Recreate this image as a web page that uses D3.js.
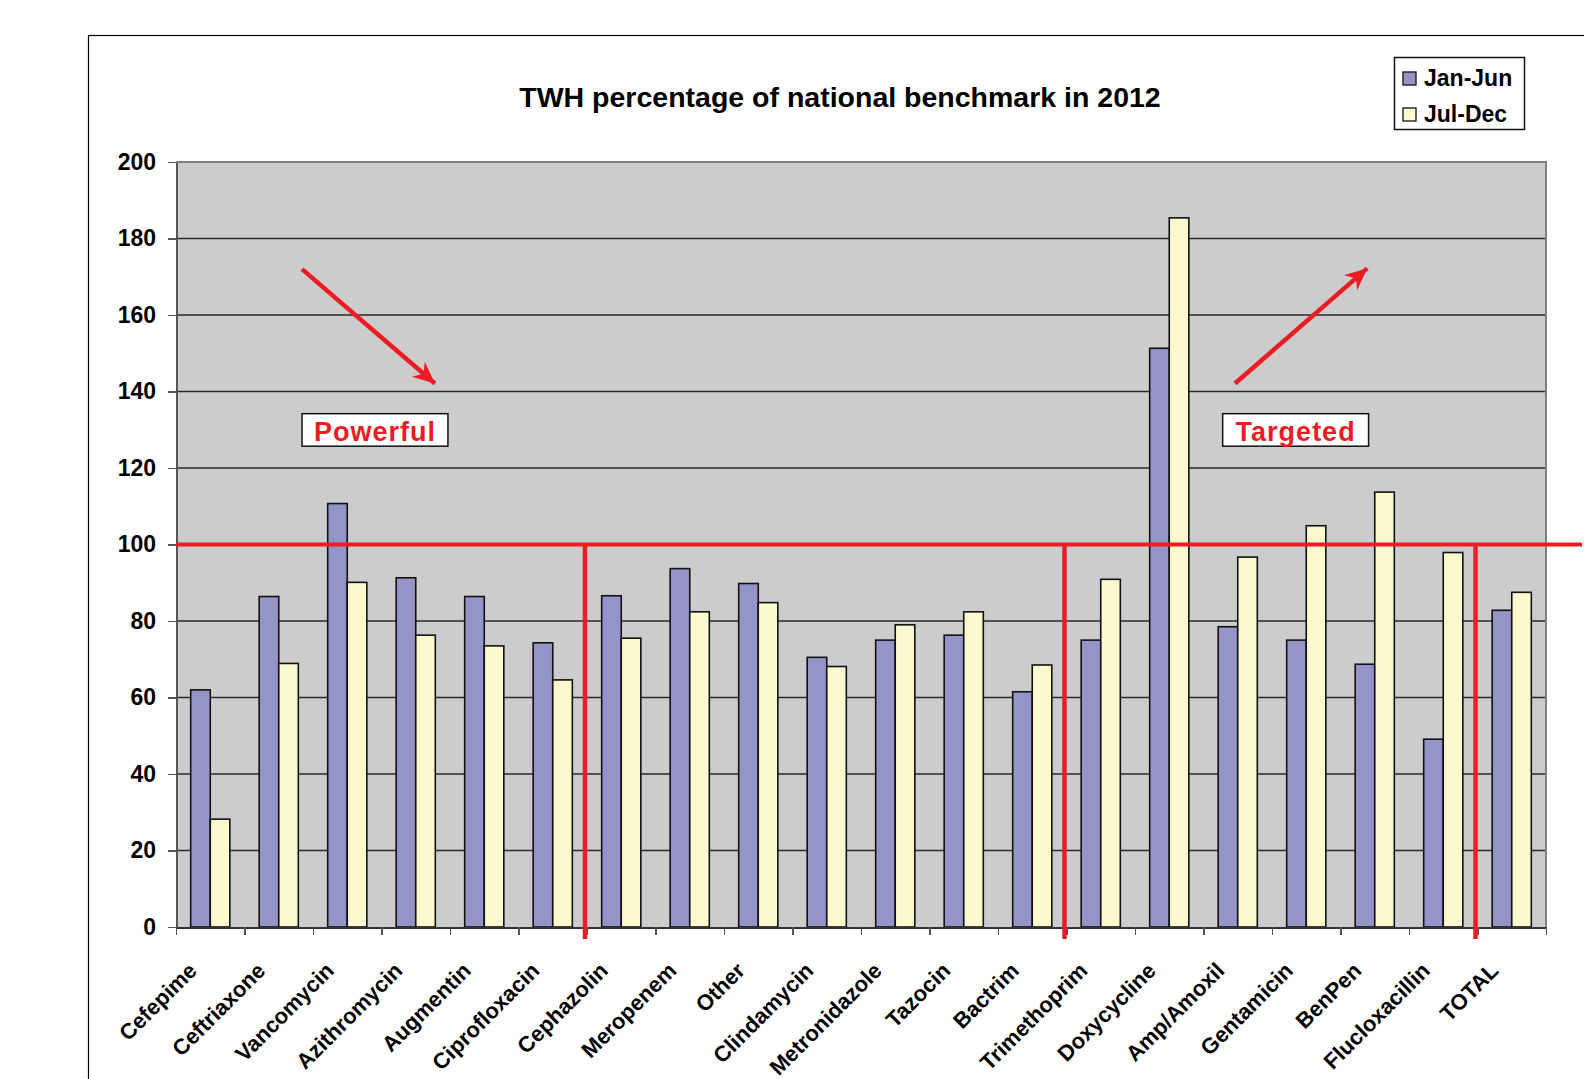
<!DOCTYPE html>
<html lang="en">
<head>
<meta charset="UTF-8">
<title>TWH percentage of national benchmark in 2012</title>
<style>
    body { margin: 0; background: #ffffff; overflow: hidden; }
    svg { display: block; font-family: 'Liberation Sans', Arial, sans-serif; }
    .axis path, .axis line { shape-rendering: crispEdges; }
</style>
</head>
<body>
<svg id="chart" width="1584" height="1079"></svg>
<script src="https://d3js.org/d3.v7.min.js"></script>
<script>
    // data
    const categories = ['Cefepime', 'Ceftriaxone', 'Vancomycin', 'Azithromycin', 'Augmentin',
        'Ciprofloxacin', 'Cephazolin', 'Meropenem', 'Other', 'Clindamycin', 'Metronidazole',
        'Tazocin', 'Bactrim', 'Trimethoprim', 'Doxycycline', 'Amp/Amoxil', 'Gentamicin',
        'BenPen', 'Flucloxacillin', 'TOTAL'];
    const janJun = [62.0, 86.4, 110.7, 91.3, 86.4, 74.3, 86.6, 93.7, 89.8, 70.5, 75.0,
        76.3, 61.5, 75.0, 151.3, 78.5, 75.0, 68.7, 49.1, 82.8];
    const julDec = [28.2, 68.9, 90.1, 76.3, 73.5, 64.6, 75.5, 82.4, 84.8, 68.1, 79.0,
        82.4, 68.5, 90.9, 185.4, 96.7, 104.9, 113.7, 97.9, 87.5];
    const seriesNames = ['Jan-Jun', 'Jul-Dec'];
    const yTicks = [0, 20, 40, 60, 80, 100, 120, 140, 160, 180, 200];
    const benchmark = 100;
    // groups split before these categories
    const dividers = ['Cephazolin', 'Trimethoprim', 'TOTAL'];
    // annotations: position in category index units and value units
    const labels = [
        { text: 'Powerful', i0: 1.84, i1: 3.97, v0: 134.2, v1: 125.7 },
        { text: 'Targeted', i0: 15.28, i1: 17.41, v0: 134.2, v1: 125.7 }
    ];
    const arrows = [
        { i0: 1.84, v0: 172.0, i1: 3.78, v1: 142.1 },
        { i0: 15.46, v0: 142.1, i1: 17.39, v1: 172.2 }
    ];

    const colors = ['#9494C8', '#FCF9CF'];
    const red = '#ED1C24';

    const svg = d3.select('#chart');
    const plotLeft = 176, plotRight = 1546, plotTop = 162, plotBottom = 927;

    // outer frame
    svg.append('rect')
        .attr('x', 88.5).attr('y', 35.5)
        .attr('width', 1600).attr('height', 1200)
        .attr('fill', 'none').attr('stroke', '#000').attr('stroke-width', 1.2);

    const x0 = d3.scaleBand().domain(categories).range([plotLeft, plotRight]).padding(0);
    const bw = x0.bandwidth();
    const x1 = d3.scaleBand().domain(seriesNames).range([bw * 0.2143, bw * 0.7857]);
    const xi = d3.scaleLinear().domain([0, categories.length]).range([plotLeft, plotRight]);
    const y = d3.scaleLinear().domain([0, 200]).range([plotBottom, plotTop]);

    // plot background
    svg.append('rect')
        .attr('x', plotLeft).attr('y', plotTop)
        .attr('width', plotRight - plotLeft).attr('height', plotBottom - plotTop)
        .attr('fill', '#CCCCCC');

    // gridlines
    svg.append('g')
        .selectAll('line')
        .data(yTicks.filter(t => t > 0 && t < 200))
        .join('line')
        .attr('x1', plotLeft).attr('x2', plotRight)
        .attr('y1', d => y(d)).attr('y2', d => y(d))
        .attr('stroke', '#2a2a2a').attr('stroke-width', 1.3);

    // plot border top/right
    svg.append('path')
        .attr('d', `M${plotLeft},${plotTop}H${plotRight}V${plotBottom}`)
        .attr('fill', 'none').attr('stroke', '#808080').attr('stroke-width', 2);

    // bars
    const rows = categories.map((c, i) => ({ cat: c, vals: [janJun[i], julDec[i]] }));
    svg.append('g')
        .selectAll('g')
        .data(rows)
        .join('g')
        .attr('transform', d => `translate(${x0(d.cat)},0)`)
        .selectAll('rect')
        .data(d => d.vals.map((v, k) => ({ key: seriesNames[k], v, k })))
        .join('rect')
        .attr('x', d => x1(d.key))
        .attr('width', x1.bandwidth())
        .attr('y', d => y(d.v))
        .attr('height', d => y(0) - y(d.v))
        .attr('fill', d => colors[d.k])
        .attr('stroke', '#111').attr('stroke-width', 1.6);

    // y axis
    const yAxis = svg.append('g')
        .attr('class', 'axis')
        .attr('transform', `translate(${plotLeft},0)`)
        .call(d3.axisLeft(y).tickValues(yTicks).tickSize(8).tickPadding(12).tickSizeOuter(0));
    yAxis.select('.domain').attr('stroke', '#555').attr('stroke-width', 2);
    yAxis.selectAll('.tick line').attr('stroke', '#555').attr('stroke-width', 1.5);
    yAxis.selectAll('.tick text')
        .attr('font-size', 23).attr('font-weight', 'bold').attr('fill', '#000')
        .attr('font-family', "'Liberation Sans', Arial, sans-serif");

    // x axis ticks at category boundaries
    const xTickAxis = svg.append('g')
        .attr('class', 'axis')
        .attr('transform', `translate(0,${plotBottom})`)
        .call(d3.axisBottom(xi).tickValues(d3.range(categories.length + 1))
            .tickFormat('').tickSize(8).tickSizeOuter(0));
    xTickAxis.select('.domain').attr('stroke', '#333').attr('stroke-width', 2);
    xTickAxis.selectAll('.tick line').attr('stroke', '#555').attr('stroke-width', 1.5);

    // x labels
    const xAxis = svg.append('g')
        .attr('transform', `translate(0,${plotBottom})`)
        .call(d3.axisBottom(x0).tickSize(0).tickPadding(0));
    xAxis.select('.domain').remove();
    xAxis.selectAll('.tick text')
        .attr('font-size', 22).attr('font-weight', 'bold').attr('fill', '#000')
        .attr('font-family', "'Liberation Sans', Arial, sans-serif")
        .attr('text-anchor', 'end')
        .attr('dy', null)
        .attr('y', 0)
        .attr('transform', 'translate(-12,45) rotate(-45)');

    // benchmark line and group dividers
    svg.append('line')
        .attr('x1', plotLeft).attr('x2', 1582)
        .attr('y1', y(benchmark)).attr('y2', y(benchmark))
        .attr('stroke', red).attr('stroke-width', 4);
    svg.append('g')
        .selectAll('line')
        .data(dividers)
        .join('line')
        .attr('x1', d => x0(d) - 2).attr('x2', d => x0(d) - 2)
        .attr('y1', y(benchmark)).attr('y2', plotBottom + 12)
        .attr('stroke', red).attr('stroke-width', 4.5);

    // arrows
    svg.append('defs').append('marker')
        .attr('id', 'head')
        .attr('markerUnits', 'userSpaceOnUse')
        .attr('viewBox', '-24 -12 28 24')
        .attr('markerWidth', 28).attr('markerHeight', 24)
        .attr('refX', 0).attr('refY', 0)
        .attr('orient', 'auto')
        .append('path')
        .attr('d', 'M0,0L-22,-10L-15,0L-22,10Z')
        .attr('fill', red);
    svg.append('g')
        .selectAll('line')
        .data(arrows)
        .join('line')
        .attr('x1', d => xi(d.i0)).attr('y1', d => y(d.v0))
        .attr('x2', d => xi(d.i1)).attr('y2', d => y(d.v1))
        .attr('stroke', red).attr('stroke-width', 4.5)
        .attr('marker-end', 'url(#head)');

    // annotation boxes
    const lab = svg.append('g').selectAll('g').data(labels).join('g');
    lab.append('rect')
        .attr('x', d => xi(d.i0)).attr('y', d => y(d.v0))
        .attr('width', d => xi(d.i1) - xi(d.i0))
        .attr('height', d => y(d.v1) - y(d.v0))
        .attr('fill', '#fff').attr('stroke', '#111').attr('stroke-width', 1.5);
    lab.append('text')
        .attr('x', d => (xi(d.i0) + xi(d.i1)) / 2)
        .attr('y', d => y(d.v1) - 5)
        .attr('text-anchor', 'middle')
        .attr('font-size', 27).attr('font-weight', 'bold')
        .attr('letter-spacing', 1)
        .attr('fill', red)
        .text(d => d.text);

    // title
    svg.append('text')
        .attr('x', 840).attr('y', 107)
        .attr('text-anchor', 'middle')
        .attr('font-size', 28.5).attr('font-weight', 'bold')
        .text('TWH percentage of national benchmark in 2012');

    // legend
    const legend = svg.append('g').attr('transform', 'translate(1394,57)');
    legend.append('rect')
        .attr('x', 0.5).attr('y', 0.5).attr('width', 130).attr('height', 72)
        .attr('fill', '#fff').attr('stroke', '#111').attr('stroke-width', 1.5);
    const items = legend.selectAll('g.item')
        .data(seriesNames)
        .join('g')
        .attr('class', 'item')
        .attr('transform', (d, i) => `translate(0,${i * 36})`);
    items.append('rect')
        .attr('x', 9).attr('y', 15).attr('width', 13).attr('height', 13)
        .attr('fill', (d, i) => colors[i]).attr('stroke', '#111').attr('stroke-width', 1.3);
    items.append('text')
        .attr('x', 30).attr('y', 29)
        .attr('font-size', 23).attr('font-weight', 'bold')
        .text(d => d);
</script>
</body>
</html>
